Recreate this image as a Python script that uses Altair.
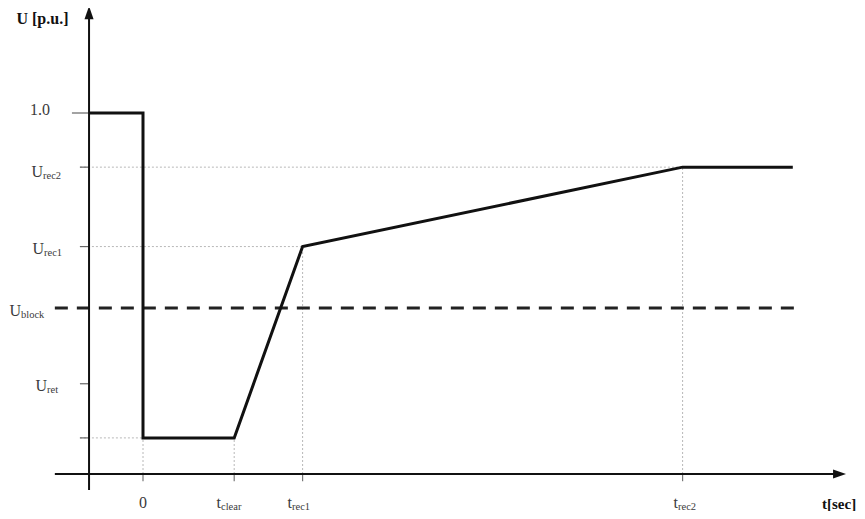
import altair as alt
import pandas as pd

# ---------------- data (time in arbitrary units, voltage in p.u.) ----------------
# key instants on the time axis
t_names = ["0", "t", "t", "t"]
t_subs = ["", "clear", "rec1", "rec2"]
t_keys = [0.0, 0.24, 0.42, 1.42]
t_end = 1.71
t_label_anchor = [0.0105, 0.2053, 0.3921, 1.4079]
x_label_u = -0.081

# voltage levels
u_names = ["1.0", "U", "U", "U", "U"]
u_subs = ["", "rec2", "rec1", "block", "ret"]
u_levels = [1.0, 0.85, 0.63, 0.46, 0.25]
u_min = 0.1
u_label_anchor = [-0.2447, -0.2632, -0.2605, -0.3211, -0.2526]
u_label_level = [1.008, 0.836, 0.624, 0.452, 0.243]

# voltage profile (fault ride-through curve)
prof_t = [-0.142, 0.0, 0.0, 0.24, 0.42, 1.42, 1.71]
prof_u = [1.0, 1.0, 0.1, 0.1, 0.63, 0.85, 0.85]

# blocking level (dashed)
block_t = [-0.232, 1.716]
block_u = 0.46

# axes
y_axis_t = -0.142
y_axis_span = [-0.044, 1.274]
x_axis_span = [-0.232, 1.834]
arrow_up = [-0.142, 1.278]
arrow_right = [1.833, 0.0]
tick_from = -0.166
tick_from_1 = -0.187
x_tick_u = -0.02

# axis titles
y_title = ["U [p.u.]", -0.2645, 1.2604]
x_title = ["t[sec]", 1.7868, -0.083]

# ---------------- scales ----------------
W, H = 849, 503
X0, X1 = -135 / 380, (W - 135) / 380
Y0, Y1 = (466 - H) / 361, 466 / 361
xs = alt.Scale(domain=[X0, X1], nice=False, zero=False)
ys = alt.Scale(domain=[Y0, Y1], nice=False, zero=False)

def X(f="x"):
    return alt.X(f"{f}:Q", scale=xs, axis=None)

def Y(f="y"):
    return alt.Y(f"{f}:Q", scale=ys, axis=None)

FONT = "Liberation Serif"
GRID = "#b8b8b8"

# ---------------- gridlines ----------------
grid_v = pd.DataFrame({
    "x": t_keys,
    "y": [0.0] * 4,
    "y2": [u_min, u_min, 0.63, 0.85],
})
grid_h = pd.DataFrame({
    "x": [tick_from] * 3,
    "x2": [0.0, 0.42, 1.42],
    "y": [u_min, 0.63, 0.85],
})
gv = alt.Chart(grid_v).mark_rule(color=GRID, strokeWidth=1, strokeDash=[2, 2]).encode(
    x=X(), y=Y(), y2="y2:Q")
gh = alt.Chart(grid_h).mark_rule(color=GRID, strokeWidth=1, strokeDash=[2, 2]).encode(
    x=X(), x2="x2:Q", y=Y())

# ---------------- ticks ----------------
yticks = pd.DataFrame({
    "x": [tick_from_1] + [tick_from] * 5,
    "x2": [y_axis_t] * 6,
    "y": u_levels + [u_min],
})
xticks = pd.DataFrame({"x": t_keys, "y": [0.0] * 4, "y2": [x_tick_u] * 4})
yt = alt.Chart(yticks).mark_rule(color="#666", strokeWidth=1.2).encode(
    x=X(), x2="x2:Q", y=Y())
xt = alt.Chart(xticks).mark_rule(color="#777", strokeWidth=1.2).encode(
    x=X(), y=Y(), y2="y2:Q")

# ---------------- axes lines & arrows ----------------
yaxis = alt.Chart(pd.DataFrame({"x": [y_axis_t], "y": [y_axis_span[0]], "y2": [y_axis_span[1]]})
                  ).mark_rule(color="#111", strokeWidth=2).encode(x=X(), y=Y(), y2="y2:Q")
xaxis = alt.Chart(pd.DataFrame({"x": [x_axis_span[0]], "x2": [x_axis_span[1]], "y": [0.0]})
                  ).mark_rule(color="#111", strokeWidth=2).encode(x=X(), x2="x2:Q", y=Y())
aup = alt.Chart(pd.DataFrame({"x": [arrow_up[0]], "y": [arrow_up[1]]})).mark_point(
    shape="M0,-1L0.7,1L-0.7,1Z", filled=True, size=169, color="#111", opacity=1
).encode(x=X(), y=Y())
aright = alt.Chart(pd.DataFrame({"x": [arrow_right[0]], "y": [arrow_right[1]]})).mark_point(
    shape="M1,0L-1,-0.7L-1,0.7Z", filled=True, size=169, color="#111", opacity=1
).encode(x=X(), y=Y())

# ---------------- dashed blocking line ----------------
block = alt.Chart(pd.DataFrame({"x": [block_t[0]], "x2": [block_t[1]], "y": [block_u]})
                  ).mark_rule(color="#222", strokeWidth=3, strokeDash=[13, 9]).encode(
    x=X(), x2="x2:Q", y=Y())

# ---------------- voltage profile ----------------
prof = pd.DataFrame({"x": prof_t, "y": prof_u, "o": list(range(len(prof_t)))})
line = alt.Chart(prof).mark_line(color="#111", strokeWidth=3, strokeJoin="miter").encode(
    x=X(), y=Y(), order="o:Q")

# ---------------- labels ----------------
ymain = pd.DataFrame({"x": u_label_anchor, "y": u_label_level, "t": u_names})
ysub = pd.DataFrame({"x": u_label_anchor, "y": u_label_level, "t": u_subs})
ysub = ysub[ysub["t"] != ""]
xmain = pd.DataFrame({"x": t_label_anchor, "y": [x_label_u] * 4, "t": t_names})
xsub = pd.DataFrame({"x": t_label_anchor, "y": [x_label_u] * 4, "t": t_subs})
xsub = xsub[xsub["t"] != ""]
main_lbl = pd.concat([ymain, xmain])
sub_lbl = pd.concat([ysub, xsub])

lm = alt.Chart(main_lbl).mark_text(align="right", baseline="middle", font=FONT,
                                   fontSize=16, color="#3a3a3a").encode(
    x=X(), y=Y(), text="t:N")
ls = alt.Chart(sub_lbl).mark_text(align="left", baseline="middle", font=FONT,
                                  fontSize=10.5, color="#3a3a3a", dy=4).encode(
    x=X(), y=Y(), text="t:N")

ytl = alt.Chart(pd.DataFrame({"x": [y_title[1]], "y": [y_title[2]], "t": [y_title[0]]})
                ).mark_text(align="center", baseline="middle", font=FONT, fontSize=16,
                            fontWeight="bold", color="#111").encode(x=X(), y=Y(), text="t:N")
xtl = alt.Chart(pd.DataFrame({"x": [x_title[1]], "y": [x_title[2]], "t": [x_title[0]]})
                ).mark_text(align="left", baseline="middle", font=FONT, fontSize=15,
                            fontWeight="bold", color="#111").encode(x=X(), y=Y(), text="t:N")

chart = alt.layer(gv, gh, yt, xt, block, yaxis, xaxis, aup, aright, line, lm, ls, ytl, xtl
                  ).properties(
    width=W, height=H, padding=0,
    autosize=alt.AutoSizeParams(type="none"),
    background="white",
).configure_view(strokeWidth=0)

chart.save("out.html", embed_options={"renderer": "svg", "actions": False})
